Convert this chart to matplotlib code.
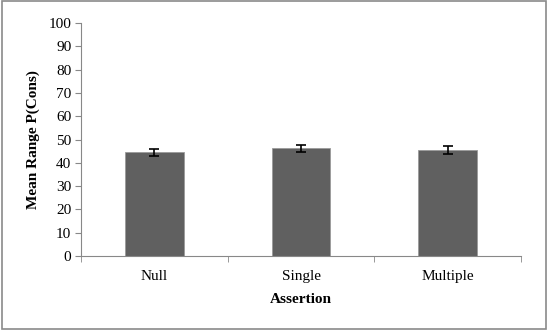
import matplotlib
matplotlib.use("Agg")
import matplotlib.pyplot as plt
from matplotlib.patches import Rectangle

categories = ["Null", "Single", "Multiple"]
means = [44.6, 46.2, 45.5]
errors = [1.5, 1.6, 1.8]
yticks = list(range(0, 101, 10))

plt.rcParams['font.family'] = ['Liberation Serif', 'DejaVu Serif']

fig = plt.figure(figsize=(5.48, 3.3), dpi=100)
ax = fig.add_axes([0.148, 0.224, 0.803, 0.706])

x = list(range(len(categories)))
ax.bar(x, means, width=0.4, color="#606060", edgecolor="#9a9a9a", linewidth=0.6,
       yerr=errors, capsize=3.5, error_kw=dict(ecolor="black", elinewidth=1.2, capthick=1.2))

ax.set_xlim(-0.5, 2.5)
ax.set_ylim(0, 100)
ax.set_yticks(yticks)
ax.set_xticks(x)
ax.set_xticklabels(categories, fontsize=11)
ax.set_xticks([-0.5, 0.5, 1.5, 2.5], minor=True)
ax.tick_params(axis="x", which="major", length=0, pad=10)
ax.tick_params(axis="x", which="minor", length=4, direction="out", color="#888888")
ax.tick_params(axis="y", length=4, direction="out", color="#888888", labelsize=11, pad=3)

for s in ["top", "right"]:
    ax.spines[s].set_visible(False)
for s in ["left", "bottom"]:
    ax.spines[s].set_color("#888888")

ax.set_xlabel("Assertion", fontsize=11, fontweight="bold", labelpad=7)
ax.set_ylabel("Mean Range P(Cons)", fontsize=11, fontweight="bold", labelpad=6)

fig.patches.append(Rectangle((0.003, 0.004), 0.994, 0.992, transform=fig.transFigure,
                             fill=False, edgecolor="#8a8a8a", linewidth=1.2))

fig.savefig("out.png", dpi=100)
